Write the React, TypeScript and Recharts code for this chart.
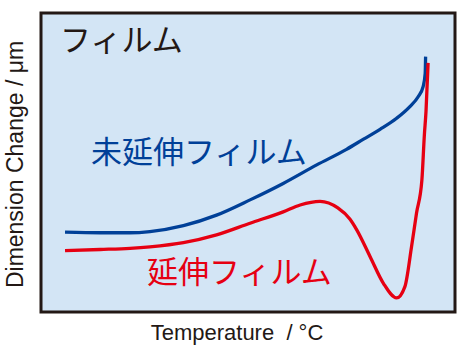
import React from 'react'
import { LineChart, Line, XAxis, YAxis, ReferenceArea } from 'recharts'

// temperature (arbitrary 0-100) vs dimension change (arbitrary 0-100)
const unstretchedX = [5.8, 14.3, 21.5, 26.3, 34.4, 42.4, 50.5, 58.5, 66.6, 73.8, 77.9, 81.9, 85.9, 89.1, 91.1, 92.3, 92.8, 92.9]
const unstretchedY = [26.7, 26.5, 26.5, 26.9, 28.9, 32.4, 37.5, 43.0, 49.2, 54.4, 57.8, 61.1, 64.8, 68.7, 72.0, 75.4, 79.8, 85.4]

const stretchedX = [5.8, 14.3, 21.5, 26.3, 34.4, 42.4, 50.5, 58.5, 62.6, 67.4, 71.7, 74.6, 76.3, 79.5, 82.7, 85.9, 87.9, 89.5, 90.7, 92.0, 92.6, 93.0, 93.5]
const stretchedY = [20.5, 20.9, 21.3, 21.8, 23.2, 25.8, 29.7, 33.5, 35.8, 37.0, 34.8, 31.1, 27.4, 18.5, 9.6, 4.7, 8.5, 21.8, 33.0, 44.1, 59.2, 67.2, 83.3]

const labels = {
  title: 'フィルム',
  unstretched: '未延伸フィルム',
  stretched: '延伸フィルム',
  xAxis: 'Temperature\u00a0\u00a0/ °C',
  yAxis: 'Dimension Change / μm',
}

const BG = '#d3e5f5'
const INK = '#231815'
const BLUE = '#004098'
const RED = '#e60012'
const JP = '"Noto Sans CJK JP", sans-serif'
const LATIN = '"Liberation Sans", Arial, sans-serif'

const toPoints = (xs: number[], ys: number[]) => xs.map((x, i) => ({ x, y: ys[i] }))
const unstretched = toPoints(unstretchedX, unstretchedY)
const stretched = toPoints(stretchedX, stretchedY)

export default function App() {
  return (
    <div style={{ position: 'absolute', left: 0, top: 0, width: 464, height: 354, background: '#fff' }}>
      <LineChart width={464} height={354} margin={{ top: 13, right: 9, left: 0, bottom: 0 }}>
        <XAxis
          type="number"
          dataKey="x"
          domain={[0, 100]}
          height={42}
          tick={false}
          tickLine={false}
          axisLine={false}
          label={{
            value: labels.xAxis,
            content: ({ viewBox }: any) => (
              <text x={viewBox.x + viewBox.width / 2 - 11} y={viewBox.y + 28} textAnchor="middle"
                fontFamily={LATIN} fontSize={22} fill={INK}>{labels.xAxis}</text>
            ),
          }}
        />
        <YAxis
          type="number"
          dataKey="y"
          domain={[0, 100]}
          width={41}
          tick={false}
          tickLine={false}
          axisLine={false}
          label={{
            value: labels.yAxis,
            content: ({ viewBox }: any) => {
              const cx = 22.5
              const cy = viewBox.y + viewBox.height / 2 + 2
              return (
                <text x={cx} y={cy} transform={`rotate(-90 ${cx} ${cy})`} textAnchor="middle"
                  fontFamily={LATIN} fontSize={23} fill={INK}>{labels.yAxis}</text>
              )
            },
          }}
        />
        <ReferenceArea x1={0} x2={100} y1={0} y2={100} fill={BG} fillOpacity={1} stroke={INK} strokeWidth={3} />
        <Line data={unstretched} dataKey="y" type="monotone" stroke={BLUE} strokeWidth={3.3} dot={false} isAnimationActive={false} />
        <Line data={stretched} dataKey="y" type="monotone" stroke={RED} strokeWidth={3.3} dot={false} isAnimationActive={false} />
      </LineChart>
      {/* curve annotations */}
      <svg width={464} height={354} style={{ position: 'absolute', left: 0, top: 0, pointerEvents: 'none' }}>
        <text x={60} y={51} fontFamily={JP} fontSize={31} fill={INK}>{labels.title}</text>
        <text x={91} y={163} fontFamily={JP} fontSize={31} fill={BLUE}>{labels.unstretched}</text>
        <text x={147} y={283} fontFamily={JP} fontSize={31} fill={RED}>{labels.stretched}</text>
      </svg>
    </div>
  )
}
